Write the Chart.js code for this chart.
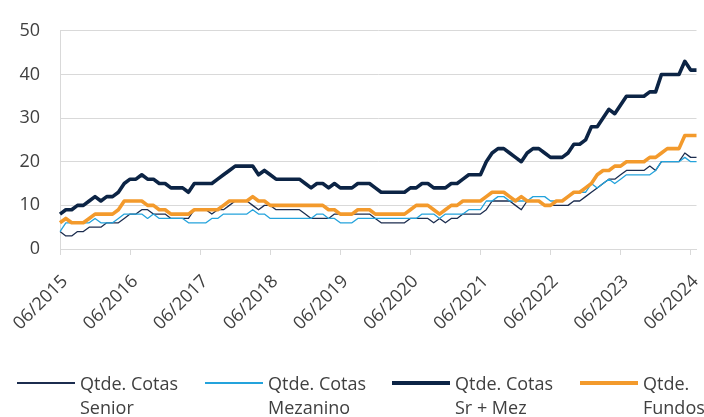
<!DOCTYPE html>
<html><head><meta charset="utf-8">
<script src="https://cdn.jsdelivr.net/npm/chart.js@4.4.1/dist/chart.umd.min.js"></script>
<style>
html,body{margin:0;padding:0;background:#fff;}
#wrap{position:relative;width:704px;height:417px;overflow:hidden;}
canvas{position:absolute;left:0;top:0;}
.leg{position:absolute;top:371px;font-family:'Open Sans',sans-serif;font-size:18px;line-height:24px;color:#404040;}
.leg .ln{position:absolute;left:0;width:58px;}
.leg .tx{position:absolute;left:63px;top:0;white-space:nowrap;}
</style></head><body>
<div id="wrap"><canvas id="c" width="704" height="417"></canvas><div id="legend"></div></div>
<script>
// Monthly categories 06/2015 .. 07/2024
const startYear = 2015, startMonth = 6, nMonths = 110;
const categories = [];
for (let k = 0; k < nMonths; k++) {
  const m = (startMonth - 1 + k) % 12 + 1;
  const y = startYear + Math.floor((startMonth - 1 + k) / 12);
  categories.push(String(m).padStart(2, '0') + '/' + y);
}
const seriesNames = ['Qtde. Cotas Senior', 'Qtde. Cotas Mezanino', 'Qtde. Cotas Sr + Mez', 'Qtde. Fundos'];
const legendLines = [['Qtde. Cotas', 'Senior'], ['Qtde. Cotas', 'Mezanino'], ['Qtde. Cotas', 'Sr + Mez'], ['Qtde.', 'Fundos']];

const senior = [4,3,3,4,4,5,5,5,6,6, 6,7,8,8,9,9,8,8,8,7, 7,7,7,9,9,9,8,9,9,10,
  11,11,11,10,9,10,10,9,9,9, 9,9,8,7,7,7,7,8,8,8, 8,8,8,8,7,6,6,6,6,6,
  7,7,7,7,6,7,6,7,7,8, 8,8,8,9,11,11,11,11,10,9, 11,11,11,10,10,10,10,10,11,11,
  12,13,14,15,16,16,17,18,18,18, 18,19,18,20,20,20,20,22,21,21];
const mezanino = [4,6,6,6,6,6,7,6,6,6, 7,8,8,8,8,7,8,7,7,7, 7,7,6,6,6,6,7,7,8,8,
  8,8,8,9,8,8,7,7,7,7, 7,7,7,7,8,8,7,7,6,6, 6,7,7,7,7,7,7,7,7,7,
  7,7,8,8,8,7,8,8,8,8, 9,9,9,11,11,12,12,11,11,11, 11,12,12,12,11,11,11,12,13,13,
  13,15,14,15,16,15,16,17,17,17, 17,17,18,20,20,20,20,21,20,20];
const srMez = [8,9,9,10,10,11,12,11,12,12, 13,15,16,16,17,16,16,15,15,14, 14,14,13,15,15,15,15,16,17,18,
  19,19,19,19,17,18,17,16,16,16, 16,16,15,14,15,15,14,15,14,14, 14,15,15,15,14,13,13,13,13,13,
  14,14,15,15,14,14,14,15,15,16, 17,17,17,20,22,23,23,22,21,20, 22,23,23,22,21,21,21,22,24,24,
  25,28,28,30,32,31,33,35,35,35, 35,36,36,40,40,40,40,43,41,41];
const fundos = [6,7,6,6,6,7,8,8,8,8, 9,11,11,11,11,10,10,9,9,8, 8,8,8,9,9,9,9,9,10,11,
  11,11,11,12,11,11,10,10,10,10, 10,10,10,10,10,10,9,9,8,8, 8,9,9,9,8,8,8,8,8,8,
  9,10,10,10,9,8,9,10,10,11, 11,11,11,12,13,13,13,12,11,12, 11,11,11,10,10,11,11,12,13,13,
  14,15,17,18,18,19,19,20,20,20, 20,21,21,22,23,23,23,26,26,26];

const colors = ['#1c2d4f', '#24a3dc', '#0c2445', '#f39a2c'];
const widths = [1.3, 1.3, 3.6, 3.6];
const values = [senior, mezanino, srMez, fundos];
const drawOrder = [3, 2, 1, 0];

const datasets = values.map((v, i) => ({
  label: seriesNames[i], data: v, borderColor: colors[i], backgroundColor: colors[i],
  borderWidth: widths[i], pointRadius: 0, tension: 0, fill: false, order: drawOrder[i],
  borderJoinStyle: 'round', borderCapStyle: 'butt'
}));

const gridGray = '#d9d9d9';
new Chart(document.getElementById('c').getContext('2d'), {
  type: 'line',
  data: { labels: categories, datasets },
  options: {
    responsive: false, animation: false, devicePixelRatio: 1,
    layout: { padding: { top: 26, right: 7.5, bottom: 0, left: 0 } },
    plugins: { legend: { display: false }, tooltip: { enabled: false } },
    scales: {
      x: {
        offset: false,
        grid: { display: true, drawOnChartArea: false, drawTicks: true, tickLength: 6,
                color: (c) => (c.index % 12 === 0 ? gridGray : 'rgba(0,0,0,0)'), lineWidth: 1 },
        border: { display: true, color: gridGray, width: 1 },
        ticks: { autoSkip: false, maxRotation: 45, minRotation: 45, padding: 16, labelOffset: 5,
                 color: '#404040', font: { family: 'Open Sans', size: 18 },
                 callback: (v, i) => (i % 12 === 0 ? categories[i] : '') },
        afterFit: (s) => { s.height = 168; s.paddingLeft = 0; s.paddingRight = 0; }
      },
      y: {
        min: 0, max: 50,
        ticks: { stepSize: 10, padding: 20, color: '#404040', font: { family: 'Open Sans', size: 18 } },
        grid: { color: gridGray, drawTicks: false, lineWidth: 1 },
        border: { display: true, color: gridGray, width: 1 },
        afterFit: (s) => { s.width = 60; }
      }
    }
  }
});

// HTML legend
const legendX = [17, 205, 392, 580];
const leg = document.getElementById('legend');
legendLines.forEach((lines, i) => {
  const d = document.createElement('div');
  d.className = 'leg';
  d.style.left = legendX[i] + 'px';
  const ln = document.createElement('div');
  ln.className = 'ln';
  ln.style.height = widths[i] > 2 ? '4px' : '1.5px';
  ln.style.top = (12 - (widths[i] > 2 ? 2 : 0.75)) + 'px';
  ln.style.background = colors[i];
  const tx = document.createElement('div');
  tx.className = 'tx';
  tx.innerHTML = lines[0] + '<br>' + lines[1];
  d.appendChild(ln); d.appendChild(tx);
  leg.appendChild(d);
});
</script>
</body></html>
